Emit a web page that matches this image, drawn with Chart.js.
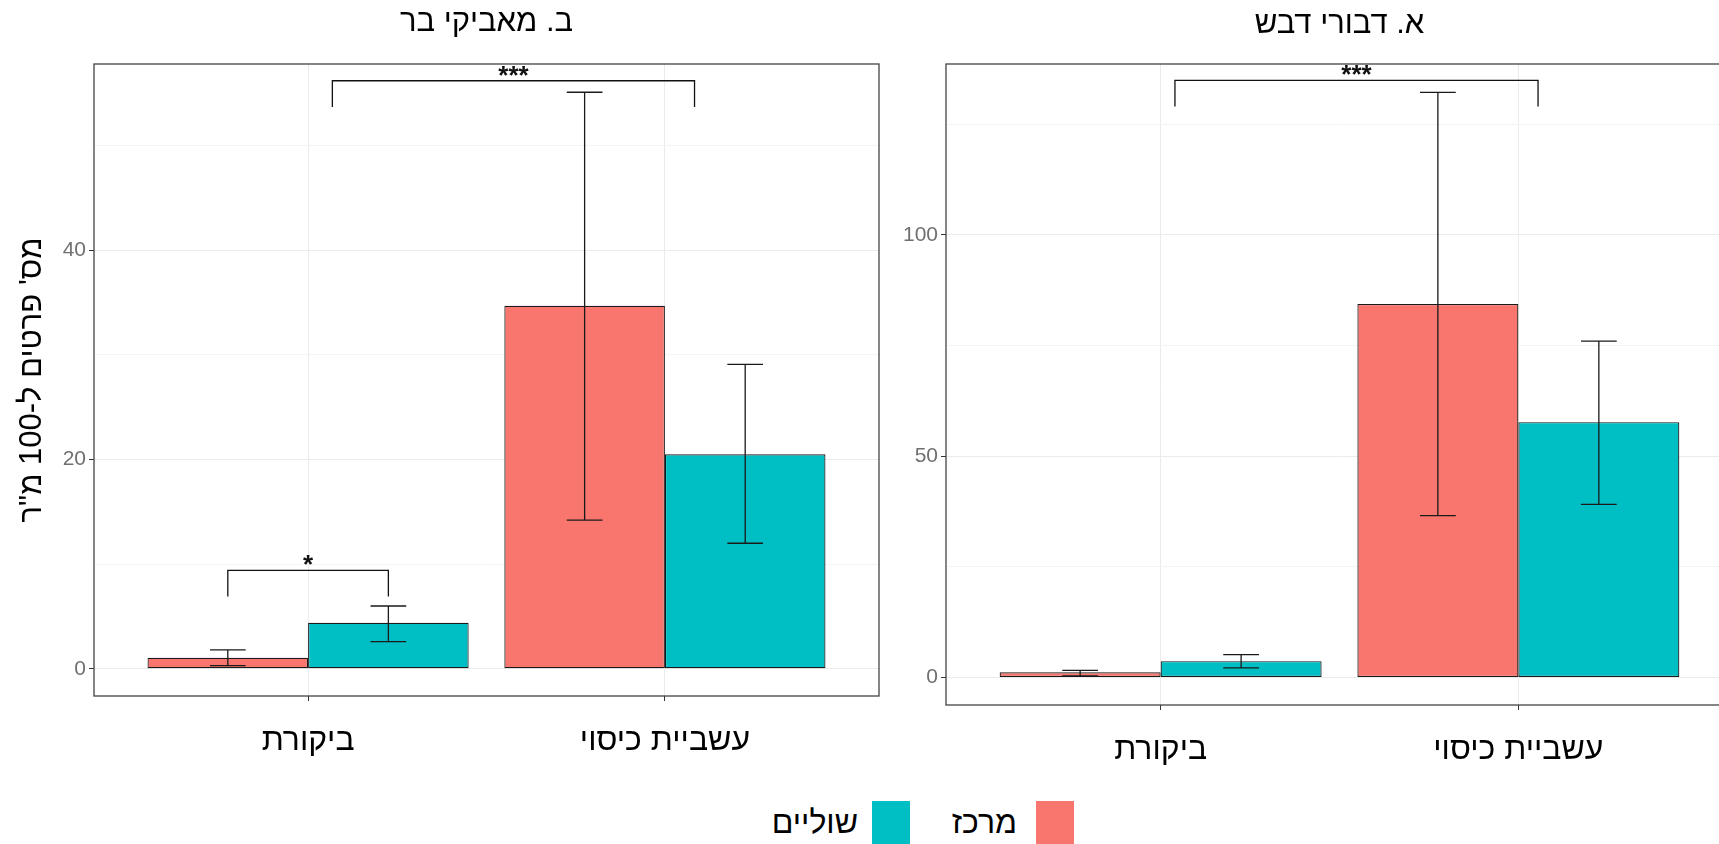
<!DOCTYPE html>
<html><head><meta charset="utf-8">
<script src="https://cdn.jsdelivr.net/npm/chart.js@4.4.0/dist/chart.umd.min.js"></script>
<style>
html,body{margin:0;padding:0;width:1719px;height:844px;overflow:hidden;background:#fff;font-family:"Liberation Sans",Arial,"DejaVu Sans",sans-serif;}
canvas{position:absolute;top:0;}
#cB{left:0;}
#cA{left:880px;}
.sw{position:absolute;top:801px;width:38px;height:44px;}
.lg{position:absolute;top:803px;font-size:32px;line-height:38px;color:#000;direction:rtl;white-space:nowrap;}
</style></head><body>
<canvas id="cB" width="973" height="780" dir="rtl"></canvas>
<canvas id="cA" width="870" height="789" dir="rtl"></canvas>
<div class="sw" style="left:1036px;background:#F8766D"></div>
<div class="lg" style="right:702px">מרכז</div>
<div class="sw" style="left:872px;background:#00BFC4"></div>
<div class="lg" style="right:861px">שוליים</div>
<script>
// ---- data ----
const categories = ['ביקורת', 'עשביית כיסוי'];
const seriesNames = ['מרכז', 'שוליים'];
const seriesColors = ['#F8766D', '#00BFC4'];
const yTitle = "מס' פרטים ל-100 מ\"ר";

// Panel B: wild pollinators
const titleB = 'ב. מאביקי בר';
const centerB = [1.05, 34.7];
const centerLowB = [0.3, 14.2];
const centerHighB = [1.8, 55.1];
const edgeB = [4.4, 20.5];
const edgeLowB = [2.6, 12.0];
const edgeHighB = [6.0, 29.1];
const yRangeB = [-2.6, 57.8];
const yTicksB = [0, 10, 20, 30, 40, 50];
const yLabelTicksB = [0, 20, 40];
const sigB = [
  {x1: -0.225, x2: 0.225, y: 9.4, yLeg: 6.9, label: '*'},
  {x1: 0.068, x2: 1.083, y: 56.2, yLeg: 53.7, label: '***'}
];

// Panel A: honey bees
const titleA = 'א. דבורי דבש';
const centerA = [1.2, 84.4];
const centerLowA = [0.4, 36.6];
const centerHighA = [1.6, 132.2];
const edgeA = [3.7, 57.7];
const edgeLowA = [2.2, 39.1];
const edgeHighA = [5.2, 76.0];
const yRangeA = [-6.2, 138.6];
const yTicksA = [0, 25, 50, 75, 100, 125];
const yLabelTicksA = [0, 50, 100];
const sigA = [
  {x1: 0.04, x2: 1.055, y: 134.9, yLeg: 129.0, label: '***'}
];

const xTicks = [0, 1];
const xRange = [-0.6, 1.6];

Chart.defaults.font.family = '"Liberation Sans", Arial, "DejaVu Sans", sans-serif';

const overlay = {
  id: 'overlay',
  afterDatasetsDraw(chart, args, opts) {
    const {ctx, chartArea: ca, scales: {x, y}} = chart;
    const unit = x.getPixelForValue(1) - x.getPixelForValue(0);
    ctx.save();
    ctx.beginPath();
    ctx.rect(ca.left, ca.top, ca.right - ca.left, ca.bottom - ca.top);
    ctx.clip();
    ctx.strokeStyle = '#1a1a1a';
    ctx.lineWidth = 1.3;
    chart.data.datasets.forEach((ds, i) => {
      const meta = chart.getDatasetMeta(i);
      meta.data.forEach((bar, j) => {
        const lo = y.getPixelForValue(ds.errLow[j]);
        const hi = y.getPixelForValue(ds.errHigh[j]);
        const cx = bar.x;
        const half = opts.cap * unit / 2;
        ctx.beginPath();
        ctx.moveTo(cx, lo); ctx.lineTo(cx, hi);
        ctx.moveTo(cx - half, lo); ctx.lineTo(cx + half, lo);
        ctx.moveTo(cx - half, hi); ctx.lineTo(cx + half, hi);
        ctx.stroke();
      });
    });
    ctx.restore();
    ctx.save();
    ctx.strokeStyle = '#111';
    ctx.fillStyle = '#111';
    ctx.lineWidth = 1.3;
    ctx.font = 'bold 26px "Liberation Sans", Arial, sans-serif';
    ctx.textAlign = 'center';
    ctx.textBaseline = 'alphabetic';
    (opts.brackets || []).forEach(b => {
      const x1 = x.getPixelForValue(b.x1), x2 = x.getPixelForValue(b.x2);
      const yt = y.getPixelForValue(b.y), yl = y.getPixelForValue(b.yLeg);
      ctx.beginPath();
      ctx.moveTo(x1, yl); ctx.lineTo(x1, yt); ctx.lineTo(x2, yt); ctx.lineTo(x2, yl);
      ctx.stroke();
      ctx.fillText(b.label, (x1 + x2) / 2, yt + 3);
    });
    ctx.strokeStyle = '#444';
    ctx.lineWidth = 1.3;
    ctx.strokeRect(ca.left, ca.top, ca.right - ca.left, ca.bottom - ca.top);
    ctx.restore();
  }
};

function makePanel(id, cfg) {
  const ds = [
    {label: seriesNames[0], data: cfg.center.map((v, i) => ({x: xTicks[i], y: v})),
     errLow: cfg.centerLow, errHigh: cfg.centerHigh, backgroundColor: seriesColors[0]},
    {label: seriesNames[1], data: cfg.edge.map((v, i) => ({x: xTicks[i], y: v})),
     errLow: cfg.edgeLow, errHigh: cfg.edgeHigh, backgroundColor: seriesColors[1]}
  ].map(d => Object.assign(d, {borderColor: '#1a1a1a', borderWidth: 1.2, borderSkipped: false,
      categoryPercentage: 0.9, barPercentage: 1.0}));
  const tFont = 31, tLH = tFont * 1.2;
  return new Chart(document.getElementById(id), {
    type: 'bar',
    data: {datasets: ds},
    options: {
      responsive: false, animation: false,
      layout: {padding: {left: 0, right: cfg.padRight, top: 0, bottom: 0}},
      plugins: {
        legend: {display: false}, tooltip: {enabled: false},
        title: {display: true, text: cfg.title, fullSize: false, color: '#000',
          font: {size: tFont, weight: 'normal', lineHeight: 1.2},
          padding: {top: cfg.titleCenter - tLH / 2, bottom: 64 - tLH - (cfg.titleCenter - tLH / 2)}},
        overlay: {cap: 0.1, brackets: cfg.brackets}
      },
      scales: {
        x: {type: 'linear', min: xRange[0], max: xRange[1], offset: false,
          afterBuildTicks: s => { s.ticks = xTicks.map(v => ({value: v})); },
          afterFit: s => { s.height = cfg.xHeight; },
          border: {display: false},
          grid: {offset: false, color: '#EBEBEB', tickColor: '#333', tickLength: 5, drawTicks: true},
          ticks: {autoSkip: false, maxRotation: 0, padding: 21, color: '#000',
            font: {size: 32, lineHeight: 1.2}, callback: v => categories[xTicks.indexOf(v)]}
        },
        y: {type: 'linear', min: cfg.yRange[0], max: cfg.yRange[1],
          afterBuildTicks: s => { s.ticks = cfg.yTicks.map(v => ({value: v})); },
          afterFit: s => { s.width = cfg.yWidth; },
          border: {display: false},
          grid: {
            color: c => cfg.yLabelTicks.includes(c.tick.value) ? '#EBEBEB' : '#F4F4F4',
            tickColor: c => cfg.yLabelTicks.includes(c.tick.value) ? '#333' : 'rgba(0,0,0,0)',
            tickLength: 5, drawTicks: true},
          ticks: {padding: 3, color: '#707070', font: {size: 21},
            callback: v => cfg.yLabelTicks.includes(v) ? String(v) : ''},
          title: {display: cfg.showYTitle, text: yTitle, color: '#000',
            font: {size: 31, lineHeight: 1.2}, padding: {top: 14, bottom: 0}}
        }
      }
    },
    plugins: [overlay]
  });
}

makePanel('cB', {title: titleB, center: centerB, centerLow: centerLowB, centerHigh: centerHighB,
  edge: edgeB, edgeLow: edgeLowB, edgeHigh: edgeHighB, yRange: yRangeB, yTicks: yTicksB,
  yLabelTicks: yLabelTicksB, brackets: sigB, padRight: 94, yWidth: 94, xHeight: 84,
  titleCenter: 22, showYTitle: true});
makePanel('cA', {title: titleA, center: centerA, centerLow: centerLowA, centerHigh: centerHighA,
  edge: edgeA, edgeLow: edgeLowA, edgeHigh: edgeHighA, yRange: yRangeA, yTicks: yTicksA,
  yLabelTicks: yLabelTicksA, brackets: sigA, padRight: 17, yWidth: 66, xHeight: 84,
  titleCenter: 24, showYTitle: false});
</script>
</body></html>
